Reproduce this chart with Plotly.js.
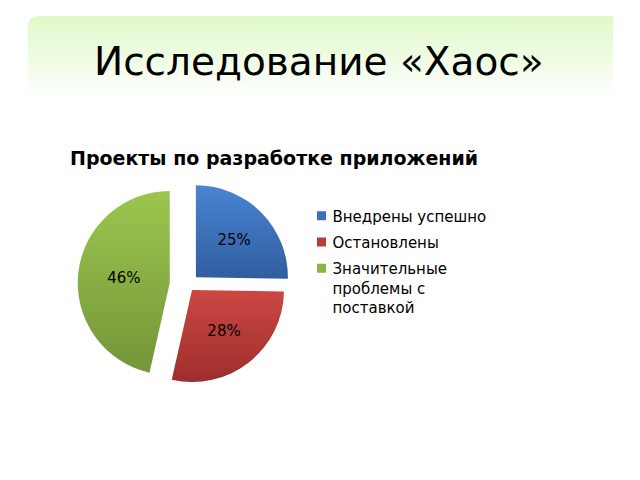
<!DOCTYPE html>
<html>
<head>
<meta charset="utf-8">
<script src="https://cdn.plot.ly/plotly-3.0.1.min.js"></script>
<style>html,body{margin:0;padding:0;background:#fff;}#chart{width:640px;height:480px;}</style>
</head>
<body>
<div id="chart"></div>
<script>
var slideTitle = "Исследование «Хаос»";
var chartTitle = "Проекты по разработке приложений";
var categories = ["Внедрены успешно", "Остановлены", "Значительные<br>проблемы с<br>поставкой"];
var values = [25, 28, 46];
var colors = ["#3c70b8", "#bb3b38", "#8cb446"];
var pulls = [0.12, 0.07, 0.2];

var trace = {
  type: "pie",
  labels: categories,
  values: values,
  sort: false,
  direction: "clockwise",
  rotation: 0,
  pull: pulls,
  marker: {colors: colors, line: {width: 0}},
  textinfo: "percent",
  texttemplate: "%{percent:.0%}",
  textposition: "inside",
  insidetextorientation: "horizontal",
  insidetextfont: {family: "DejaVu Sans", size: 15, color: "#000"},
  hoverinfo: "none",
  domain: {x: [0.1213, 0.4663], y: [0.17625, 0.63625]}
};

function px(x){return (x/640).toFixed(5);}
function py(y){return (1 - y/480).toFixed(5);}

var layout = {
  width: 640, height: 480,
  margin: {l: 0, r: 0, t: 0, b: 0},
  paper_bgcolor: "#ffffff",
  font: {family: "DejaVu Sans", color: "#000"},
  title: {
    text: "<b>" + chartTitle + "</b>",
    font: {family: "DejaVu Sans", size: 19, color: "#000"},
    x: 70/640, xanchor: "left", xref: "paper",
    y: 1 - 158/480, yanchor: "middle", yref: "paper"
  },
  showlegend: true,
  legend: {
    x: 301.5/640, xanchor: "left",
    y: 1 - 199.5/480, yanchor: "top",
    valign: "top",
    font: {family: "DejaVu Sans", size: 15, color: "#000"},
    bgcolor: "rgba(0,0,0,0)",
    borderwidth: 0,
    itemwidth: 30
  },
  shapes: [{
    type: "path", xref: "paper", yref: "paper",
    path: "M " + px(28) + "," + py(98) + " L " + px(28) + "," + py(27) +
      " Q " + px(28) + "," + py(16) + " " + px(39) + "," + py(16) +
      " L " + px(613) + "," + py(16) + " L " + px(613) + "," + py(98) + " Z",
    fillcolor: "#e6fbd4", line: {width: 0}, layer: "below"
  }],
  annotations: [{
    text: slideTitle, xref: "paper", yref: "paper",
    x: 319/640, y: 1 - 62/480, xanchor: "center", yanchor: "middle",
    showarrow: false,
    font: {family: "DejaVu Sans", size: 39, color: "#000"}
  }]
};

Plotly.newPlot("chart", [trace], layout, {displayModeBar: false, staticPlot: true}).then(function(gd){
  var svgNS = "http://www.w3.org/2000/svg";
  var svg = gd.querySelector(".main-svg");
  var defs = svg.querySelector("defs");
  function grad(id, stops){
    var g = document.createElementNS(svgNS, "linearGradient");
    g.setAttribute("id", id); g.setAttribute("x1","0"); g.setAttribute("y1","0");
    g.setAttribute("x2","0"); g.setAttribute("y2","1");
    stops.forEach(function(s){
      var st = document.createElementNS(svgNS, "stop");
      st.setAttribute("offset", s[0]); st.setAttribute("stop-color", s[1]);
      g.appendChild(st);
    });
    defs.appendChild(g);
  }
  grad("gblue", [["0","#4a84d2"],["1","#2f5e9f"]]);
  grad("gred", [["0","#cc4743"],["1","#9c2e2c"]]);
  grad("ggreen", [["0","#9cc64e"],["1","#739638"]]);
  grad("ghead", [["0","#e0f9c8"],["0.5","#eefce2"],["1","#ffffff"]]);
  var ids = ["gblue","gred","ggreen"];
  gd.querySelectorAll(".slice path.surface").forEach(function(p, i){
    p.style.fill = "url(#" + ids[i] + ")";
  });
  var sh = gd.querySelector(".shapelayer path");
  if (sh) sh.style.fill = "url(#ghead)";

  // legend fine-tuning: smaller swatches, tighter text gap, wider row spacing
  var extraGap = 3.75;
  var items = gd.querySelectorAll(".legend .traces");
  items.forEach(function(it, i){
    var tr = it.getAttribute("transform") || "";
    var m = tr.match(/translate\(\s*([-\d.]+)[ ,]+([-\d.]+)\s*\)/);
    if (m) {
      it.setAttribute("transform", "translate(" + m[1] + "," + (parseFloat(m[2]) + i * extraGap) + ")");
    }
    it.querySelectorAll(".legendpoints path").forEach(function(p){
      var t = p.getAttribute("transform") || "";
      p.setAttribute("transform", t + " scale(0.75)");
    });
    var txt = it.querySelector("text.legendtext");
    if (txt) {
      txt.setAttribute("x", "31");
      txt.querySelectorAll("tspan.line").forEach(function(ts){ ts.setAttribute("x", "31"); });
    }
  });
});
</script>
</body>
</html>
